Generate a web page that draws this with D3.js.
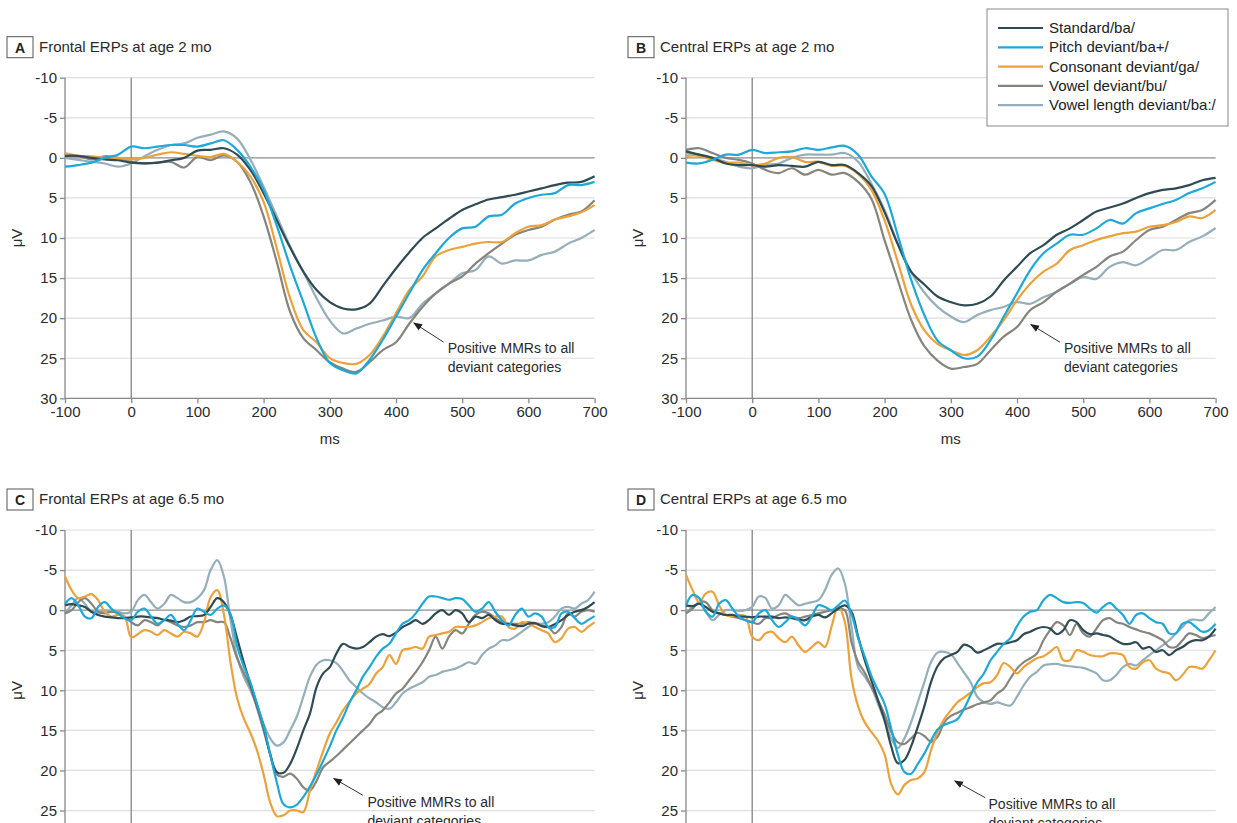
<!DOCTYPE html>
<html><head><meta charset="utf-8">
<script src="https://cdn.jsdelivr.net/npm/d3@7"></script>
<style>
html,body{margin:0;padding:0;background:#fff;overflow:hidden;}
svg{display:block;font-family:"Liberation Sans",Arial,sans-serif;}
</style></head><body>
<svg id="chart" width="1237" height="823"></svg>
<script>
// ---------- data ----------
const timesCoarse = [-100,-80,-60,-40,-20,0,20,40,60,80,100,120,140,160,180,200,220,240,260,280,300,320,340,360,380,400,420,440,460,480,500,520,540,560,580,600,620,640,660,680,700];
const timesFine = [-100,-90,-80,-70,-60,-50,-40,-30,-20,-10,0,10,20,30,40,50,60,70,80,90,100,110,120,130,140,150,160,170,180,190,200,210,220,230,240,250,260,270,280,290,300,310,320,330,340,350,360,370,380,390,400,410,420,430,440,450,460,470,480,490,500,510,520,530,540,550,560,570,580,590,600,610,620,630,640,650,660,670,680,690,700];

const seriesNames = ["Standard/ba/","Pitch deviant/ba+/","Consonant deviant/ga/","Vowel deviant/bu/","Vowel length deviant/ba:/"];
const seriesColors = ["#2e4b54","#1ea8d8","#eba23b","#85847d","#95afba"];
const xTicks = [-100,0,100,200,300,400,500,600,700];
const yTicks = [-10,-5,0,5,10,15,20,25,30];
const panelLetters = ["A","B","C","D"];
const panelTitles = ["Frontal ERPs at age 2 mo","Central ERPs at age 2 mo","Frontal ERPs at age 6.5 mo","Central ERPs at age 6.5 mo"];
const annotationLines = ["Positive MMRs to all","deviant categories"];

// Panel A (frontal, 2 mo) – timesCoarse
const stdA = [-0.25,-0.25,0,0.2,0.3, 0.6,0.7,0.6,0.3,0, -0.9,-1.0,-1.2,-0.4,1.5, 4.4,7.8,11.2,14.2,16.5, 18.0,18.8,18.9,18.2,16.0, 13.8,11.8,10.0,8.8,7.6, 6.5,5.8,5.2,4.9,4.6, 4.2,3.8,3.4,3.1,3.0, 2.3];
const pitA = [1.1,0.9,0.6,0,-0.4, -1.4,-1.2,-1.4,-1.6,-1.6, -1.4,-1.8,-2.2,-1.0,1.1, 4.0,8.5,13.5,18.0,22.5, 25.6,26.5,26.9,25.2,22.7, 19.8,16.9,14.0,11.9,10.0, 8.8,8.6,7.3,7.1,5.7, 5.0,4.6,4.4,3.4,3.4, 3.0];
const conA = [-0.6,-0.25,-0.2,0,0, 0.2,0,-0.4,-0.7,-0.5, -0.25,-0.1,-0.5,0.5,2.3, 5.5,11.3,17.5,21.5,23.0, 25.0,25.6,25.7,24.6,22.3, 19.4,16.5,14.8,12.3,11.5, 11.1,10.7,10.5,10.5,9.4, 8.6,8.4,7.7,7.3,6.8, 5.9];
const vowA = [-0.2,-0.2,0.2,-0.2,0, 0.5,0.7,0.6,0.5,1.2, -0.1,0.3,-0.3,0.5,3.0, 7.3,13.0,19.2,22.5,24.0, 25.5,26.3,26.7,25.5,24.0, 23.0,20.7,18.6,16.9,15.7, 14.8,13.2,11.9,10.7,9.6, 9.0,8.6,7.7,7.1,6.7, 5.3];
const lenA = [0,0.25,0.5,0.7,1.1, 0.7,-0.2,-1.0,-1.6,-1.8, -2.5,-2.9,-3.3,-2.4,0.2, 3.6,7.3,11.0,14.2,17.5, 20.3,21.9,21.3,20.7,20.3, 19.8,20.0,18.2,16.9,15.7, 14.4,14.0,12.3,13.2,12.8, 12.8,12.1,11.7,10.7,10.0, 9.0];

// Panel B (central, 2 mo) – timesCoarse
const stdB = [-0.8,-0.4,0,0.7,0.9, 0.9,1.1,0.9,1.0,1.1, 0.5,0.9,0.9,1.9,3.5, 6.8,10.8,14.2,15.8,17.3, 18.0,18.4,18.2,17.3,15.3, 13.6,11.9,10.9,9.6,8.8, 7.75,6.7,6.2,5.7,5.0, 4.4,4.0,3.8,3.4,2.8, 2.5];
const pitB = [0.6,0.7,0.25,-0.4,-0.4, -1.0,-0.6,-0.7,-0.8,-1.2, -1.0,-1.3,-1.5,-0.4,2.3, 4.5,9.7,15.2,19.6,22.8, 24.0,25.0,24.8,22.75,19.8, 16.9,14.0,11.9,10.7,9.6, 9.6,8.8,7.75,8.2,6.9, 6.3,5.75,5.25,4.4,3.8, 3.0];
const conB = [-0.25,-0.25,0.25,0.6,0.6, 0.9,0.7,0,-0.1,0.5, 0.5,1.0,1.0,2.0,4.0, 7.8,13.0,18.3,21.5,23.2, 24.0,24.6,24.0,22.3,20.25, 17.75,15.7,14.2,13.2,11.5, 10.9,10.25,9.8,9.4,9.2, 8.6,8.4,8.0,7.3,7.5, 6.5];
const vowB = [-1.0,-1.2,-0.6,0,0.25, 0.7,1.5,1.9,1.3,2.1, 1.5,2.1,1.9,3.0,5.1, 10.3,15.3,20.2,23.5,25.3, 26.3,26.1,25.7,24.0,22.3, 21.1,19.0,18.0,16.7,15.7, 14.6,13.6,12.3,11.7,10.25, 9.0,8.6,7.75,6.9,6.5, 5.25];
const lenB = [-0.6,-0.4,0,0.5,1.1, 1.3,0.9,0.7,0,-0.4, -0.4,-0.4,-0.6,0.5,3.2, 6.5,10.7,14.2,16.8,18.6, 19.8,20.5,19.6,19.0,18.6, 18.0,18.2,17.4,16.7,15.7, 14.9,15.1,13.6,13.0,13.4, 12.5,11.5,11.5,10.5,9.8, 8.75];

// Panel C (frontal, 6.5 mo) – timesFine
const stdC = [-0.6,-0.75,-0.6,-0.4,0.2,0.6,0.8,0.9,1.0,1.0, 0.9,0.8,0.8,0.9,1.0,1.2,1.3,1.5,1.25,0.8, 0.75,0.6,-0.4,-1.5,-1.0,0.6,3.5,6.5,9.2,11.8, 14.5,18.0,20.2,20.3,19.2,17.3,15.0,12.9,9.6,7.9, 7.1,5.4,4.2,4.6,4.8,4.6,4.0,3.3,3.0,3.25, 2.8,2.1,1.7,1.25,1.7,1.2,0.4,0,0.6,0, 0.4,1.5,0.8,1.0,0.6,1.25,1.7,1.7,1.9,2.0, 1.7,1.6,2.0,2.1,1.75,1.25,0.6,0.2,0,-0.4, -1.0];
const pitC = [-0.8,-1.5,-0.6,0.8,1.0,-0.4,-1.0,-0.2,0.4,1.0, 1.25,0.2,-0.2,0.8,1.7,1.25,0.6,1.7,2.5,1.25, -0.2,0.2,0.6,-0.2,-0.6,0.5,4.5,7.0,9.0,11.7, 14.4,18.0,21.5,24.2,24.6,24.3,23.3,22.0,20.5,18.8, 17.0,15.0,13.4,11.5,10.0,8.3,7.1,5.8,4.8,4.2, 2.9,1.7,1.25,0.4,-0.8,-1.7,-1.7,-1.5,-1.3,-1.5, -1.4,-0.6,0.2,-0.2,-1.0,0.2,1.25,1.9,0.6,-0.2, 0.8,0.4,0.8,2.1,2.1,0.4,0.2,1.0,1.7,1.25, 0.75];
const conC = [-4.2,-2.5,-1.5,-1.7,-2.0,-1.25,0.2,0.8,0.6,0.8, 3.4,3.0,2.5,2.7,3.1,2.5,2.9,3.3,2.7,2.9, 3.3,1.5,-1.6,-2.5,0.5,6.5,11.0,13.5,15.3,17.5, 20.5,24.0,25.7,25.6,25.0,25.0,25.2,22.5,20.0,17.6, 15.4,14.0,12.5,11.4,10.4,9.8,9.2,7.9,7.1,5.6, 6.7,5.0,4.8,4.6,4.8,3.3,3.1,2.9,2.7,2.1, 2.1,2.1,1.9,1.5,1.0,0.8,0.8,2.1,2.3,1.5, 1.7,2.1,2.5,2.9,4.0,3.5,2.3,2.1,2.7,2.1, 1.5];
const vowC = [0.4,0,-1.0,-1.5,-0.8,0.2,0.4,0.2,0.4,0.8, 1.5,1.9,1.25,1.5,1.9,1.25,1.5,1.9,2.1,1.9, 1.5,1.5,1.25,1.5,1.5,3.5,6.0,7.8,9.6,12.2, 15.0,18.0,20.5,20.8,20.4,21.0,22.1,22.5,21.3,19.6, 18.9,18.2,17.4,16.6,15.8,15.0,14.2,13.1,12.5,11.5, 10.4,9.8,8.75,7.7,6.5,5.0,3.3,4.8,3.3,2.5, 2.9,1.7,0.6,0.2,0.4,1.0,1.5,1.7,1.7,1.7, 1.5,1.7,1.9,2.1,2.9,2.1,0.4,0.8,0.2,0, 0.2];
const lenC = [0.4,-0.6,-1.5,-0.8,0.2,0.4,0,0.2,0.2,0.4, 0.2,-1.25,-1.9,-1.0,-0.2,-0.8,-1.9,-1.5,-1.0,-1.0, -1.5,-2.5,-5.0,-6.25,-4.2,1.25,5.8,8.3,10.0,12.0, 14.2,16.0,16.9,16.5,15.0,13.3,10.8,8.3,6.8,6.25, 6.25,6.6,7.6,8.8,9.6,10.4,11.0,11.5,12.1,12.3, 11.5,10.4,9.8,9.4,9.0,8.3,8.1,7.7,7.5,7.3, 6.9,6.5,6.7,5.6,4.8,4.4,3.75,3.75,3.3,2.7, 2.1,1.7,1.7,1.5,0.8,-0.2,-0.4,-0.2,-0.8,-1.25, -2.3];

// Panel D (central, 6.5 mo) – timesFine
const stdD = [-0.6,-0.5,-0.8,-0.4,0.2,0.4,0.6,0.6,0.8,0.8, 0.9,0.8,0.8,0.8,1.0,0.9,1.0,1.2,1.25,0.8, 0.6,0.9,0.4,-0.2,-0.6,0.2,3.3,6.25,8.75,11.25, 13.75,17.0,19.1,18.7,17.0,14.6,12.0,9.0,7.0,6.0, 5.6,5.2,4.3,4.6,5.3,5.0,4.6,4.2,4.2,4.0, 3.75,3.0,2.7,2.3,2.1,2.3,3.0,2.5,1.25,1.5, 2.5,3.0,2.9,3.1,3.3,3.8,4.2,4.2,4.0,4.8, 4.6,5.2,5.0,5.6,5.0,4.6,4.0,3.75,3.75,3.3, 2.3];
const pitD = [-0.6,-1.9,-1.5,0.2,0.8,-0.8,-1.25,-0.2,0.8,1.25, 1.5,0.4,0,1.25,2.1,1.5,0.8,1.25,1.9,0.8, -0.6,-0.4,0,-0.6,-1.2,0.5,3.5,5.8,8.2,10.0, 11.7,14.8,18.0,20.2,20.4,19.2,17.9,16.3,14.9,14.3, 14.0,13.6,12.3,10.6,9.0,7.9,6.25,5.2,4.2,3.5, 2.0,0.8,0.2,0,-1.25,-1.9,-1.5,-1.0,-0.9,-1.0, -0.9,-0.2,0.3,-0.4,-0.9,-0.2,0.6,1.7,0.6,0.4, 1.0,1.5,1.7,2.9,2.9,1.7,1.5,2.1,2.7,2.5, 1.7];
const conD = [-4.4,-2.5,-1.0,-2.1,-2.3,-0.6,0.6,0.8,0.6,0.8, 3.3,3.75,2.9,2.7,3.5,4.0,3.3,4.4,5.2,4.6, 4.0,4.6,2.0,-0.5,1.5,8.5,12.0,14.0,15.2,16.3, 18.0,21.7,23.0,21.8,21.2,21.0,20.2,17.5,15.2,13.6, 12.5,11.5,10.9,10.3,9.6,9.1,9.0,8.1,6.6,7.1, 7.9,7.1,6.5,6.0,5.75,5.2,4.6,6.25,6.25,5.0, 5.2,5.6,5.75,5.75,5.4,5.4,5.6,7.1,7.3,6.5, 6.25,7.3,7.7,7.9,8.75,8.1,7.1,7.1,7.3,6.25, 5.0];
const vowD = [0.4,-0.2,-1.0,-1.0,0,0.4,0.6,0.8,1.0,1.25, 1.5,1.7,1.0,1.0,0.6,0.4,0.8,1.0,0.8,0.6, 0.4,0.2,0,-0.2,0,4.0,6.5,7.8,9.6,11.2, 13.0,15.2,16.5,16.7,16.0,15.3,15.7,16.4,15.8,14.0, 13.2,12.8,12.4,12.1,11.75,11.5,11.25,10.4,9.8,8.5, 7.3,6.5,6.0,5.4,3.75,2.5,1.5,1.9,3.1,1.7, 2.9,3.3,2.3,1.25,1.0,1.5,1.7,2.1,2.4,2.7, 2.9,3.3,3.75,4.6,4.6,3.75,2.9,3.1,3.5,3.3, 3.1];
const lenD = [0.4,-0.4,-0.8,0.2,1.25,0.6,0,0,0.1,0, -0.4,-1.7,-1.5,-0.2,-0.6,-1.9,-1.25,-0.6,-0.8,-1.0, -1.25,-2.5,-4.4,-5.2,-3.3,2.1,7.1,8.3,9.6,11.7, 13.75,16.0,17.2,16.0,14.0,11.5,9.0,6.5,5.3,5.2, 5.5,6.6,7.8,9.0,10.8,11.5,11.7,11.5,11.75,11.9, 10.8,9.4,8.3,7.7,6.9,6.75,6.7,6.9,7.0,7.1, 7.2,7.5,7.9,8.75,8.75,8.1,7.1,6.7,6.9,6.25, 5.6,5.0,4.4,3.75,2.9,2.1,1.25,1.2,1.25,0.4, -0.4];

// ---------- layout ----------
const W = 1237, H = 823;
const panels = [
  {times: timesCoarse, series: [stdA,pitA,conA,vowA,lenA], x0: 65,  x1: 594.6,  y0: 77.7, y1: 398.3, ann: {tx: 478, ty: 24.3, from: [472, 23.0], to: [427, 20.6]}},
  {times: timesCoarse, series: [stdB,pitB,conB,vowB,lenB], x0: 686, x1: 1215.6, y0: 77.7, y1: 398.3, ann: {tx: 471, ty: 24.3, from: [465, 23.0], to: [421, 20.8]}},
  {times: timesFine,   series: [stdC,pitC,conC,vowC,lenC], x0: 65,  x1: 594.6,  y0: 530,  y1: 850.6, ann: {tx: 357, ty: 24.5, from: [350, 23.1], to: [306, 21.0]}},
  {times: timesFine,   series: [stdD,pitD,conD,vowD,lenD], x0: 686, x1: 1215.6, y0: 530,  y1: 850.6, ann: {tx: 357, ty: 24.8, from: [352, 23.4], to: [306, 21.3]}}
];
const drawOrder = [4,3,2,0,1];

const svg = d3.select("#chart");
const defs = svg.append("defs");
defs.append("marker").attr("id","arrow").attr("viewBox","0 0 10 10")
  .attr("refX",9).attr("refY",5).attr("markerWidth",9).attr("markerHeight",9)
  .attr("markerUnits","userSpaceOnUse").attr("orient","auto")
  .append("path").attr("d","M0,1 L10,5 L0,9 Z").attr("fill","#222");

panels.forEach((p, pi) => {
  const x = d3.scaleLinear().domain([-100, 700]).range([p.x0, p.x1]);
  const y = d3.scaleLinear().domain([-10, 30]).range([p.y0, p.y1]);
  const g = svg.append("g");
  const bottomVisible = p.y1 + 20 < H;   // lower panels are cropped at the page edge, as in the source

  // title
  g.append("rect").attr("x", p.x0 - 58).attr("y", p.y0 - 41).attr("width", 26).attr("height", 21)
    .attr("fill", "#fff").attr("stroke", "#555").attr("stroke-width", 1);
  g.append("text").attr("x", p.x0 - 45).attr("y", p.y0 - 25).attr("text-anchor", "middle")
    .attr("font-size", 14).attr("font-weight", "bold").attr("fill", "#222").text(panelLetters[pi]);
  g.append("text").attr("x", p.x0 - 26).attr("y", p.y0 - 26)
    .attr("font-size", 15).attr("fill", "#2a2a2a").text(panelTitles[pi]);

  // grid
  g.selectAll("line.grid").data(yTicks.filter(v => v !== 30 && v !== 0)).enter().append("line")
    .attr("x1", p.x0).attr("x2", p.x1).attr("y1", d => y(d)).attr("y2", d => y(d))
    .attr("stroke", "#dedede").attr("stroke-width", 1.2);
  g.append("line").attr("x1", p.x0).attr("x2", p.x1).attr("y1", y(0)).attr("y2", y(0))
    .attr("stroke", "#8c8c8c").attr("stroke-width", 1.2);
  g.append("line").attr("x1", x(0)).attr("x2", x(0)).attr("y1", y(-10)).attr("y2", y(30))
    .attr("stroke", "#7a7a7a").attr("stroke-width", 1.2);

  // axes
  const visibleY = yTicks.filter(v => y(v) + 6 < H);
  const yAxis = d3.axisLeft(y).tickValues(visibleY).tickSize(5).tickPadding(3).tickFormat(d => String(d));
  const ya = g.append("g").attr("transform", `translate(${p.x0},0)`).call(yAxis);
  const xAxis = d3.axisBottom(x).tickValues(xTicks).tickSize(5).tickPadding(3)
    .tickFormat(d => bottomVisible ? String(d) : "");
  const xa = g.append("g").attr("transform", `translate(0,${p.y1})`).call(xAxis);
  if (!bottomVisible) xa.selectAll(".tick text").remove();
  [ya, xa].forEach(a => {
    a.select(".domain").attr("stroke", "#888").attr("stroke-width", 1.3);
    a.selectAll(".tick line").attr("stroke", "#888").attr("stroke-width", 1.3);
    a.selectAll(".tick text").attr("font-size", 15).attr("fill", "#2a2a2a")
      .attr("font-family", '"Liberation Sans",Arial,sans-serif');
  });
  ya.select(".domain").attr("d", `M0,${y(-10)}V${y(30)}`);
  xa.select(".domain").attr("d", `M${p.x0},0H${p.x1}`);

  g.append("text").attr("transform", `translate(${p.x0 - 43},${(p.y0 + p.y1) / 2}) rotate(-90)`)
    .attr("text-anchor", "middle").attr("font-size", 15).attr("fill", "#2a2a2a").text("μV");
  if (bottomVisible) {
    g.append("text").attr("x", (p.x0 + p.x1) / 2).attr("y", p.y1 + 46).attr("text-anchor", "middle")
      .attr("font-size", 15).attr("fill", "#2a2a2a").text("ms");
  }

  // lines
  const line = d3.line().x((d, i) => x(p.times[i])).y(d => y(d)).curve(d3.curveCatmullRom.alpha(0.5));
  drawOrder.forEach(si => {
    g.append("path").datum(p.series[si]).attr("d", line).attr("fill", "none")
      .attr("stroke", seriesColors[si]).attr("stroke-width", 2.2).attr("stroke-linejoin", "round");
  });

  // annotation
  const a = p.ann;
  g.append("line").attr("x1", x(a.from[0])).attr("y1", y(a.from[1])).attr("x2", x(a.to[0])).attr("y2", y(a.to[1]))
    .attr("stroke", "#333").attr("stroke-width", 1).attr("marker-end", "url(#arrow)");
  const t = g.append("text").attr("x", x(a.tx)).attr("y", y(a.ty)).attr("font-size", 14).attr("fill", "#2a2a2a");
  annotationLines.forEach((s, i) => t.append("tspan").attr("x", x(a.tx)).attr("dy", i === 0 ? 0 : 19).text(s));
});

// legend
const lg = svg.append("g");
lg.append("rect").attr("x", 987).attr("y", 9).attr("width", 241).attr("height", 117)
  .attr("fill", "#fff").attr("stroke", "#888").attr("stroke-width", 1);
seriesNames.forEach((n, i) => {
  const yy = 28 + i * 19.3;
  lg.append("line").attr("x1", 998).attr("x2", 1043).attr("y1", yy).attr("y2", yy)
    .attr("stroke", seriesColors[i]).attr("stroke-width", 2.2);
  lg.append("text").attr("x", 1049).attr("y", yy + 5).attr("font-size", 15).attr("fill", "#222").text(n);
});
</script>
</body></html>
